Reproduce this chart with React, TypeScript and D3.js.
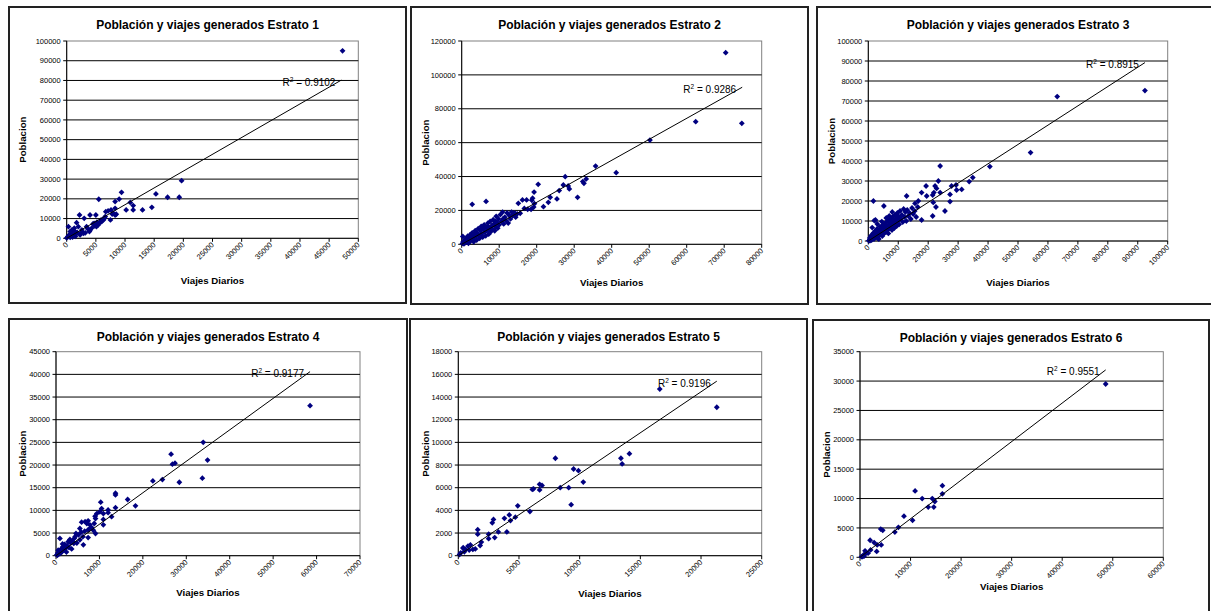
import React from 'react';
import * as d3 from 'd3';

// Viajes diarios (x), Poblacion (y)
const estrato1: [number, number][] = [
  [47300, 95000], [19700, 29200], [15300, 22500], [17300, 20800], [19300, 20800], [14600, 15700],
  [13000, 14400], [11400, 14400], [11400, 16600], [10900, 18200], [10200, 14400], [9400, 23300],
  [9000, 19900], [5500, 19800], [8300, 18600], [8300, 15200], [8000, 12700], [8300, 11800],
  [7600, 14400], [7100, 13900], [6700, 13500], [7500, 9300], [6600, 11000], [6300, 9300],
  [5000, 11800], [4000, 11800], [2200, 11800], [3000, 10100], [1700, 7900], [3400, 5900],
  [3900, 3400], [4500, 7300], [5100, 5900], [5700, 7900], [5400, 6800], [300, 5900],
  [1300, 5100], [900, 4200], [600, 3400], [1700, 2500], [2900, 2500], [2300, 1700],
  [1100, 1700], [300, 1200], [600, 500], [0, 200], [1400, 3400], [2600, 4200],
  [2000, 5900], [4000, 4200], [4700, 7600], [5900, 9300], [200, 800], [500, 1800],
  [800, 2600], [1000, 600], [1500, 1000], [1800, 3000], [2500, 3000], [3200, 2800],
  [3600, 4800], [4300, 5200], [4800, 6300], [5200, 8200], [6000, 8500], [6500, 10300],
  [7800, 12300], [8500, 12200],
];

const estrato2: [number, number][] = [
  [70400, 113100], [74700, 71400], [62400, 72400], [50200, 61500], [41200, 42300], [35700, 46200],
  [33200, 38600], [32300, 37000], [32600, 36000], [30900, 27700], [28700, 32700], [28400, 34400],
  [27600, 39900], [27100, 35000], [26000, 31700], [25400, 26800], [23600, 27700], [23100, 24800],
  [21800, 22200], [20400, 35400], [19400, 24000], [18900, 27200], [19300, 30800], [18700, 26000],
  [18500, 20700], [19200, 22000], [17300, 26200], [16200, 26200], [16700, 21200], [17600, 20700],
  [15100, 24200], [15600, 18300], [14200, 18300], [6500, 25300], [2800, 23600],
  [200, 500], [400, 1500], [600, 300], [800, 2500], [1000, 1000], [1200, 3500], [1400, 1800],
  [1600, 4800], [1800, 600], [2000, 3000], [2200, 5500], [2400, 2000], [2600, 4200], [2800, 6800],
  [3000, 3200], [3200, 1500], [3400, 5500], [3600, 8000], [3800, 4500], [4000, 2500], [4200, 6500],
  [4400, 9200], [4600, 5200], [4800, 3500], [5000, 8000], [5200, 10500], [5400, 6200], [5600, 4200],
  [5800, 9000], [6000, 11500], [6200, 7200], [6400, 5000], [6600, 10000], [6800, 8200], [7000, 12500],
  [7200, 6000], [7400, 9500], [7600, 13500], [7800, 7500], [8000, 11000], [8200, 9000], [8400, 14500],
  [8600, 12000], [8800, 8000], [9000, 10500], [9200, 16500], [9400, 13000], [9600, 9500], [9800, 15000],
  [10000, 11500], [10300, 17500], [10600, 13500], [10900, 19000], [11200, 12000], [11500, 16000],
  [11800, 14000], [12100, 18500], [12400, 12500], [12700, 17000], [13000, 15000], [13300, 19000],
  [13600, 17000], [14000, 18500], [14400, 16000], [14800, 18000], [9000, 13500], [11000, 15000],
  [5500, 9500], [7000, 10500], [3000, 5000], [1500, 3000], [300, 4600],
];

const estrato3: [number, number][] = [
  [92400, 75200], [63100, 72200], [54200, 44200], [40600, 37200], [34900, 31700], [33700, 29700],
  [31200, 25800], [29500, 25500], [29300, 28000], [27800, 27500], [27300, 23300], [27300, 19700],
  [25600, 15000], [24000, 37500], [23400, 30000], [24000, 24200], [22800, 26300], [22300, 27500],
  [21900, 24200], [21500, 23000], [21700, 19300], [21500, 12500], [22600, 17000], [19300, 27500],
  [17800, 24200], [19500, 22500], [17800, 10500], [16700, 20000], [15600, 18800], [12800, 22500],
  [5200, 17500], [1700, 20000], [2400, 10500], [1300, 6700],
  [300, 300], [500, 1500], [700, 800], [900, 2500], [1100, 400], [1300, 3200], [1500, 1800],
  [1700, 4000], [1900, 1000], [2100, 2800], [2300, 5000], [2500, 2000], [2700, 3600], [2900, 6000],
  [3100, 1500], [3300, 4300], [3500, 2600], [3700, 5500], [3900, 7200], [4100, 3200], [4300, 4800],
  [4500, 6500], [4700, 2500], [4900, 8000], [5100, 5000], [5300, 3800], [5500, 6800], [5700, 9000],
  [5900, 4500], [6100, 7500], [6300, 5600], [6500, 10000], [6700, 3800], [6900, 8200], [7100, 6200],
  [7300, 11000], [7500, 7000], [7700, 9200], [7900, 5500], [8100, 12000], [8300, 8000], [8500, 10200],
  [8700, 6500], [8900, 13000], [9100, 9000], [9300, 11300], [9500, 7500], [9700, 14000], [9900, 10000],
  [10100, 12300], [10300, 8300], [10600, 15000], [10900, 11000], [11200, 13000], [11500, 9500],
  [11800, 16000], [12100, 12000], [12400, 14500], [12700, 10000], [13000, 15500], [13400, 12500],
  [13800, 14000], [14200, 11000], [14600, 16500], [15000, 13500], [15500, 15000], [16000, 12000],
  [16500, 17000], [3000, 8500], [2000, 10200], [4500, 9700], [6000, 11500], [8000, 14500],
  [7000, 12500], [3500, 1000], [1000, 1800], [200, 100], [600, 200],
];

const estrato4: [number, number][] = [
  [58500, 33100], [33900, 25000], [34900, 21100], [33700, 17100], [28400, 16200], [27400, 20400],
  [26800, 20200], [26500, 22400], [24500, 16800], [22300, 16500], [18300, 11000], [16500, 12400],
  [13700, 13800], [13700, 13400], [13700, 10600], [12800, 8600], [12000, 10100], [12000, 9500],
  [10300, 11800], [10100, 9700], [10900, 9300], [10900, 8000], [10900, 6800], [10500, 10400],
  [9400, 9300], [9000, 8700], [9100, 8200], [8800, 7100], [9100, 4900], [7800, 6800],
  [7800, 6000], [7400, 5700], [7400, 7700], [6700, 7500], [7100, 7100], [7400, 4000],
  [5900, 7400], [5500, 6000], [6300, 2400], [5500, 3500], [4600, 4900], [4400, 4200],
  [4100, 2700], [3200, 3600], [2800, 3100], [3600, 1500], [900, 3800], [200, 200],
  [400, 600], [600, 300], [800, 1000], [1000, 500], [1200, 1500], [1400, 900],
  [1600, 2000], [1800, 1200], [2000, 2500], [2200, 1600], [2400, 800], [2600, 2200],
  [3000, 1800], [3400, 2800], [3800, 3200], [4200, 3800], [4800, 2800], [5200, 4600],
  [5800, 5200], [6200, 4200], [6600, 5400], [8200, 6200], [8600, 5600], [500, 1200],
  [1500, 2600], [300, 100],
];

const estrato5: [number, number][] = [
  [21300, 13100], [16600, 14700], [14100, 9000], [13400, 8600], [13500, 8100], [10300, 6500],
  [9900, 7500], [9500, 7650], [9300, 4500], [9100, 6000], [8400, 6000], [8000, 8600],
  [6900, 6200], [6700, 6300], [6700, 5800], [6200, 5900], [6100, 5850], [5900, 3900],
  [4900, 4400], [4700, 3400], [4300, 3100], [4200, 3600], [3800, 3300], [4000, 2100],
  [3300, 2100], [3000, 1600], [2900, 3200], [2800, 2900], [2500, 1900], [2500, 1500],
  [1600, 2300], [1600, 1900], [1900, 1200], [1800, 900], [1400, 600], [1200, 550],
  [1000, 950], [800, 850], [900, 500], [400, 700], [400, 650], [500, 350],
  [200, 250], [100, 100], [600, 550],
];

const estrato6: [number, number][] = [
  [48600, 29500], [16300, 12200], [16300, 10800], [14800, 9500], [14600, 8550], [14300, 10000],
  [13500, 8550], [12300, 10000], [10900, 11300], [10400, 6300], [8700, 7000], [7600, 5100],
  [6900, 4300], [4500, 4600], [4100, 4800], [4200, 2100], [3300, 1000], [3400, 2100],
  [2800, 2500], [2000, 2900], [2100, 1250], [1600, 700], [1000, 1100], [1200, 700],
  [700, 400], [500, 100], [800, 200], [300, 100],
];

const series = [estrato1, estrato2, estrato3, estrato4, estrato5, estrato6];
const r2Labels = ['0.9102', '0.9286', '0.8915', '0.9177', '0.9196', '0.9551'];
// end of each fitted line (starts at the origin)
const trendEnds: [number, number][] = [
  [47100, 80200], [74800, 92700], [92400, 89200], [58500, 40600], [21300, 15400], [48600, 31900],
];
const yMaxes = [100000, 120000, 100000, 45000, 18000, 35000];
const ySteps = [10000, 20000, 10000, 5000, 2000, 5000];
const xMaxes = [50000, 80000, 100000, 70000, 25000, 60000];
const xSteps = [5000, 10000, 10000, 10000, 5000, 10000];

// frame [x, y, w, h], plot [left, top, right, bottom]
const layout = [
  { frame: [9, 7, 397, 296], plot: [66.7, 41, 358.3, 238.3], yTitleX: 22.7, xTitleY: 284 },
  { frame: [411, 7, 397, 297], plot: [461.7, 41, 761.7, 244.3], yTitleX: 425.7, xTitleY: 285.5 },
  { frame: [817, 7, 402, 297], plot: [868.3, 41, 1167.7, 241], yTitleX: 831, xTitleY: 286 },
  { frame: [9, 319, 398, 300], plot: [56, 351.7, 360, 555.7], yTitleX: 22.7, xTitleY: 596 },
  { frame: [410, 319, 397, 300], plot: [458.3, 351.7, 761.7, 555.7], yTitleX: 425, xTitleY: 596.5 },
  { frame: [813, 320, 396, 300], plot: [860, 351.7, 1163.3, 557.3], yTitleX: 826, xTitleY: 590 },
];

const font = '"Liberation Sans", Arial, sans-serif';
const navy = '#000080';
const diamond = 'M0,-2.9L2.9,0L0,2.9L-2.9,0Z';

const Panel = ({ i }: { i: number }) => {
  const { frame, plot, yTitleX, xTitleY } = layout[i];
  const [left, top, right, bottom] = plot;
  const x = d3.scaleLinear().domain([0, xMaxes[i]]).range([left, right]);
  const y = d3.scaleLinear().domain([0, yMaxes[i]]).range([bottom, top]);
  const xTicks = d3.range(0, xMaxes[i] + 1, xSteps[i]);
  const yTicks = d3.range(0, yMaxes[i] + 1, ySteps[i]);
  const [tx, ty] = trendEnds[i];
  const trend = d3.line()([[x(0), y(0)], [x(tx), y(ty)]]) || '';

  return (
    <g fontFamily={font}>
      <rect x={frame[0]} y={frame[1]} width={frame[2]} height={frame[3]} fill="#fff" stroke="#222" strokeWidth={2} />
      <text x={frame[0] + frame[2] / 2} y={frame[1] + 22} textAnchor="middle" fontSize={12} fontWeight="bold">
        {`Población y viajes generados Estrato ${i + 1}`}
      </text>

      <rect x={left} y={top} width={right - left} height={bottom - top} fill="#fff" stroke="#808080" strokeWidth={1} />
      {yTicks.slice(1, -1).map(v => (
        <line key={v} x1={left} x2={right} y1={y(v)} y2={y(v)} stroke="#000" strokeWidth={1} />
      ))}

      {/* y axis */}
      <line x1={left} x2={left} y1={top} y2={bottom} stroke="#000" />
      {yTicks.map(v => (
        <g key={v}>
          <line x1={left - 3.5} x2={left} y1={y(v)} y2={y(v)} stroke="#000" />
          <text x={left - 6} y={y(v)} dy="0.35em" textAnchor="end" fontSize={7.5}>{v}</text>
        </g>
      ))}

      {/* x axis */}
      <line x1={left} x2={right} y1={bottom} y2={bottom} stroke="#000" />
      {xTicks.map(v => (
        <g key={v}>
          <line x1={x(v)} x2={x(v)} y1={bottom} y2={bottom + 3.5} stroke="#000" />
          <text transform={`translate(${x(v) + 2},${bottom + 7}) rotate(-45)`} textAnchor="end" fontSize={7.5}>{v}</text>
        </g>
      ))}

      {series[i].map((d, k) => (
        <path key={k} d={diamond} transform={`translate(${x(d[0])},${y(d[1])})`} fill={navy} />
      ))}

      <path d={trend} stroke="#000" strokeWidth={1} fill="none" />
      <text x={x(tx) - 6} y={y(ty) + 5.5} textAnchor="end" fontSize={10}>
        R<tspan dy={-4} fontSize={6.5}>2</tspan><tspan dy={4}>{` = ${r2Labels[i]}`}</tspan>
      </text>

      <text x={(left + right) / 2} y={xTitleY} textAnchor="middle" fontSize={9.7} fontWeight="bold">Viajes Diarios</text>
      <text transform={`translate(${yTitleX + 3.5},${(top + bottom) / 2}) rotate(-90)`} textAnchor="middle" fontSize={9.7} fontWeight="bold">Poblacion</text>
    </g>
  );
};

export default function App() {
  return (
    <svg width={1211} height={611} style={{ position: 'absolute', left: 0, top: 0, background: '#fff' }}>
      {series.map((_, i) => <Panel key={i} i={i} />)}
    </svg>
  );
}
